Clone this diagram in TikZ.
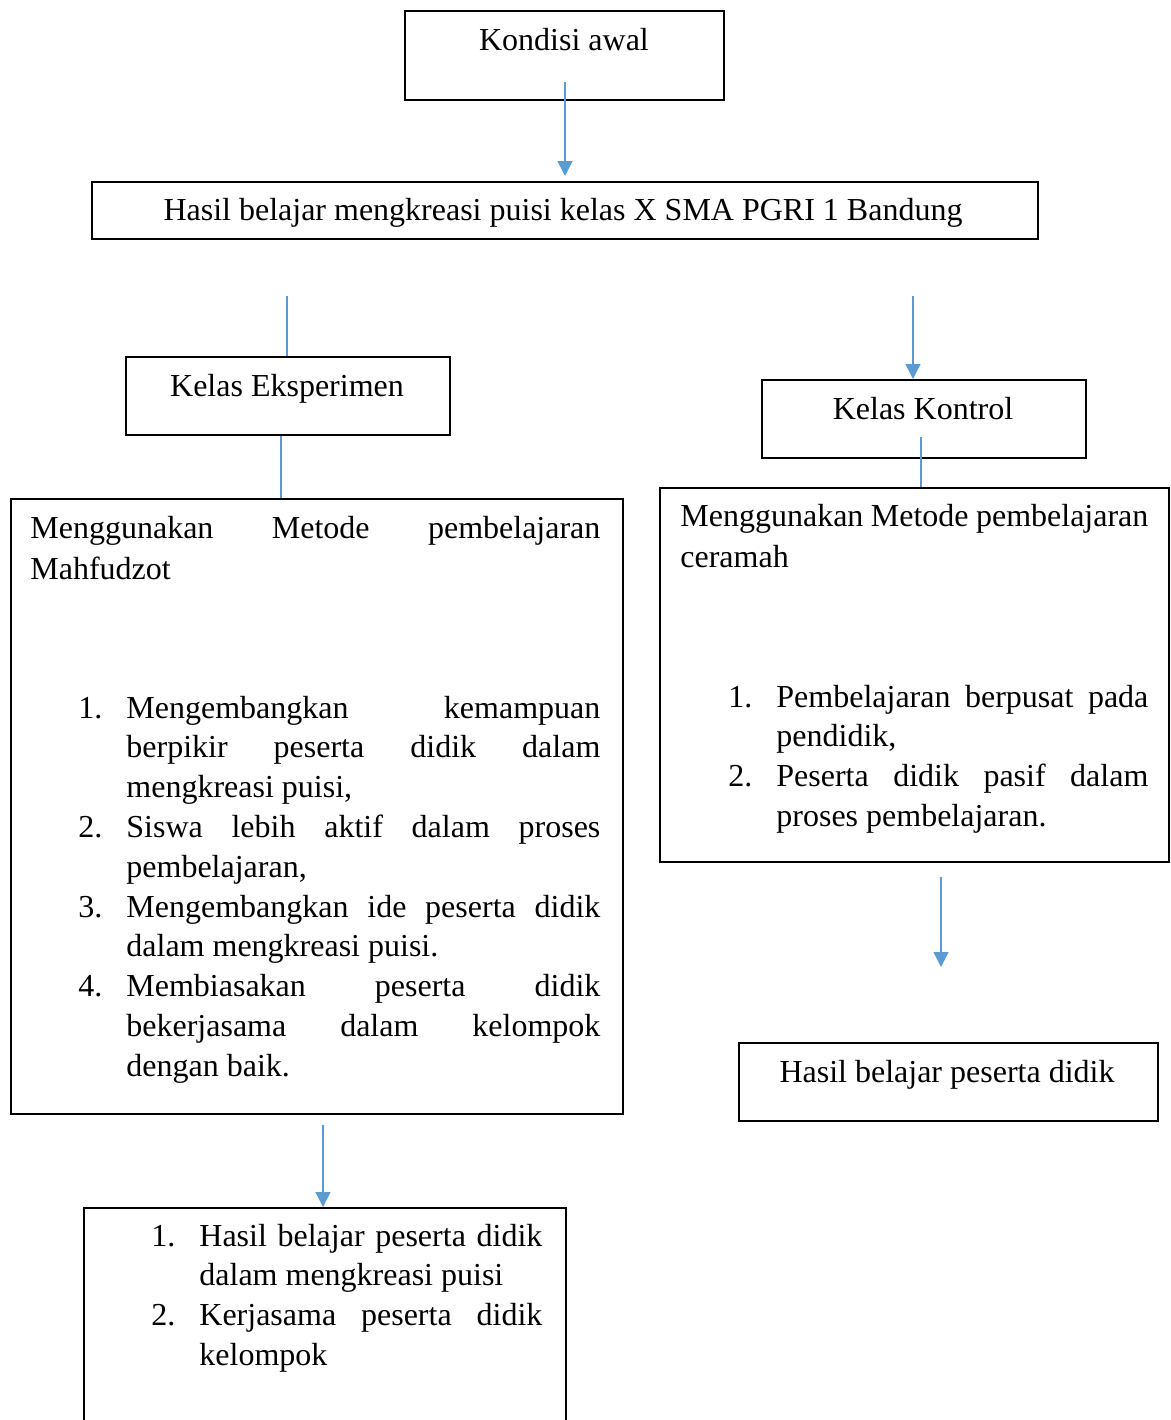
\documentclass[tikz,border=0pt]{standalone}
\usepackage{fontspec}
\setmainfont{Liberation Serif}
\usetikzlibrary{arrows.meta}
\definecolor{lnblue}{RGB}{91,155,213}
\newcommand\jl[2]{\makebox[#1][s]{#2}}
\newcommand\numi[1]{\makebox[24pt][l]{#1}}
\begin{document}
\begin{tikzpicture}[x=0.5pt,y=-0.5pt,
  box/.style={draw=black,line width=0.9pt,inner sep=0pt,anchor=north west},
  txt/.style={inner sep=0pt,font=\fontsize{16}{19.9}\selectfont},
  conn/.style={draw=lnblue,line width=0.65pt},
  arr/.style={conn,-{Triangle[width=7.5pt,length=7.5pt]}}]
\useasboundingbox (0,0) rectangle (1171,1420);
% boxes
\node[box,minimum width=159.5pt,minimum height=44.5pt] (kondisi) at (404,10) {};
\node[box,minimum width=473pt,minimum height=28.5pt] (hasil) at (91,181) {};
\node[box,minimum width=162pt,minimum height=39pt] (eks) at (125,356) {};
\node[box,minimum width=162pt,minimum height=39pt] (kon) at (761,379) {};
\node[box,minimum width=306pt,minimum height=307.5pt] (left) at (10,498) {};
\node[box,minimum width=254.5pt,minimum height=187pt] (right) at (659,487) {};
\node[box,minimum width=209.5pt,minimum height=39pt] (hasil2) at (738,1042) {};
\node[box,minimum width=241pt,minimum height=115pt] (bot) at (83,1207) {};
% texts
\node[txt,anchor=base] (t0) at (564,50) {Kondisi awal};
\node[txt,anchor=base] (t1) at (563,220) {Hasil belajar mengkreasi puisi kelas X SMA PGRI 1 Bandung};
\node[txt,anchor=base] (t2) at (287,396) {Kelas Eksperimen};
\node[txt,anchor=base] (t3) at (923,419) {Kelas Kontrol};
\node[txt,anchor=base] (t4) at (947,1082) {Hasil belajar peserta didik};
\node[txt,anchor=base west] (la) at (30,538) {\parbox[t]{285pt}{\baselineskip=20.5pt
  \jl{285pt}{Menggunakan Metode pembelajaran}\\Mahfudzot}};
\node[txt,anchor=base west] (lb) at (78,718) {\parbox[t]{261pt}{%
  \numi{1.}\jl{237pt}{Mengembangkan kemampuan}\\
  \numi{}\jl{237pt}{berpikir peserta didik dalam}\\
  \numi{}mengkreasi puisi,\\
  \numi{2.}\jl{237pt}{Siswa lebih aktif dalam proses}\\
  \numi{}pembelajaran,\\
  \numi{3.}\jl{237pt}{Mengembangkan ide peserta didik}\\
  \numi{}dalam mengkreasi puisi.\\
  \numi{4.}\jl{237pt}{Membiasakan peserta didik}\\
  \numi{}\jl{237pt}{bekerjasama dalam kelompok}\\
  \numi{}dengan baik.}};
\node[txt,anchor=base west] (ra) at (680,526) {\parbox[t]{234pt}{\baselineskip=20.5pt
  \jl{234pt}{Menggunakan Metode pembelajaran}\\ceramah}};
\node[txt,anchor=base west] (rb) at (728,707) {\parbox[t]{210pt}{%
  \numi{1.}\jl{186pt}{Pembelajaran berpusat pada}\\
  \numi{}pendidik,\\
  \numi{2.}\jl{186pt}{Peserta didik pasif dalam}\\
  \numi{}proses pembelajaran.}};
\node[txt,anchor=base west] (ba) at (151,1246) {\parbox[t]{195.5pt}{%
  \numi{1.}\jl{171.5pt}{Hasil belajar peserta didik}\\
  \numi{}dalam mengkreasi puisi\\
  \numi{2.}\jl{171.5pt}{Kerjasama peserta didik}\\
  \numi{}kelompok}};
% connectors
\coordinate (k0) at (565,82);
\draw[arr,shorten >=2.5pt] (k0) -- (k0 |- hasil.north);
\coordinate (e0) at (287,296);
\draw[conn] (e0) -- (e0 |- eks.north);
\coordinate (e1) at (281,434);
\draw[conn] (e1 |- eks.south) -- (e1 |- left.north);
\coordinate (r0) at (913,296);
\draw[arr] (r0) -- (r0 |- kon.north);
\coordinate (r1) at (921,437);
\draw[conn] (r1) -- (r1 |- right.north);
\coordinate (r2) at (941,877);
\coordinate (r3) at (941,967);
\draw[arr] (r2) -- (r3);
\coordinate (b0) at (323,1125);
\draw[arr] (b0) -- (b0 |- bot.north);
\end{tikzpicture}
\end{document}
